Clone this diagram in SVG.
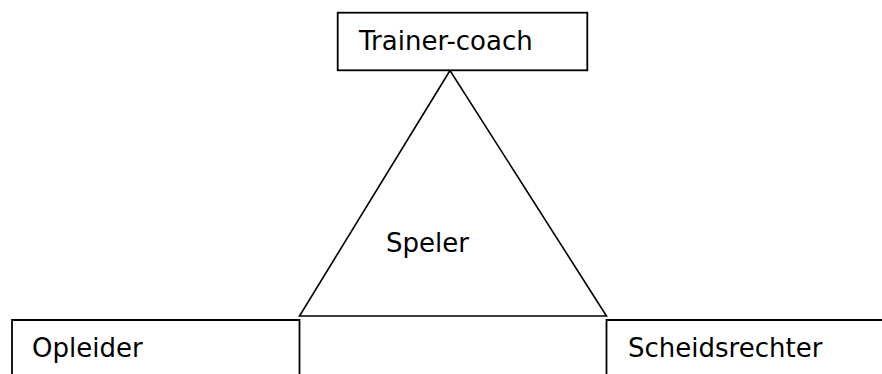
<svg xmlns="http://www.w3.org/2000/svg" width="882" height="374" viewBox="0 0 882 374">
<style>
.box{fill:#fff;stroke:#000;stroke-width:1.8}
.ln{fill:none;stroke:#000;stroke-width:1.6}
.t{font-family:"DejaVu Sans","Noto Sans",sans-serif;font-size:26px;fill:#000}
</style>
<rect width="882" height="374" fill="#fff"/>
<g id="connectors">
<path class="ln" d="M450,70.5 L299.5,316 L606.5,316 Z"/>
</g>
<g id="trainer-coach">
<rect class="box" x="337.7" y="12.7" width="249.6" height="57.6"/>
<text class="t" x="359" y="50">Trainer-coach</text>
</g>
<g id="speler">
<text class="t" x="386" y="251.5">Speler</text>
</g>
<g id="opleider">
<path class="box" d="M12,380 L12,320 L299.5,320 L299.5,380"/>
<text class="t" x="32" y="356.5">Opleider</text>
</g>
<g id="scheidsrechter">
<path class="box" d="M606.5,380 L606.5,320 L890,320"/>
<text class="t" x="628" y="356.5">Scheidsrechter</text>
</g>
</svg>
